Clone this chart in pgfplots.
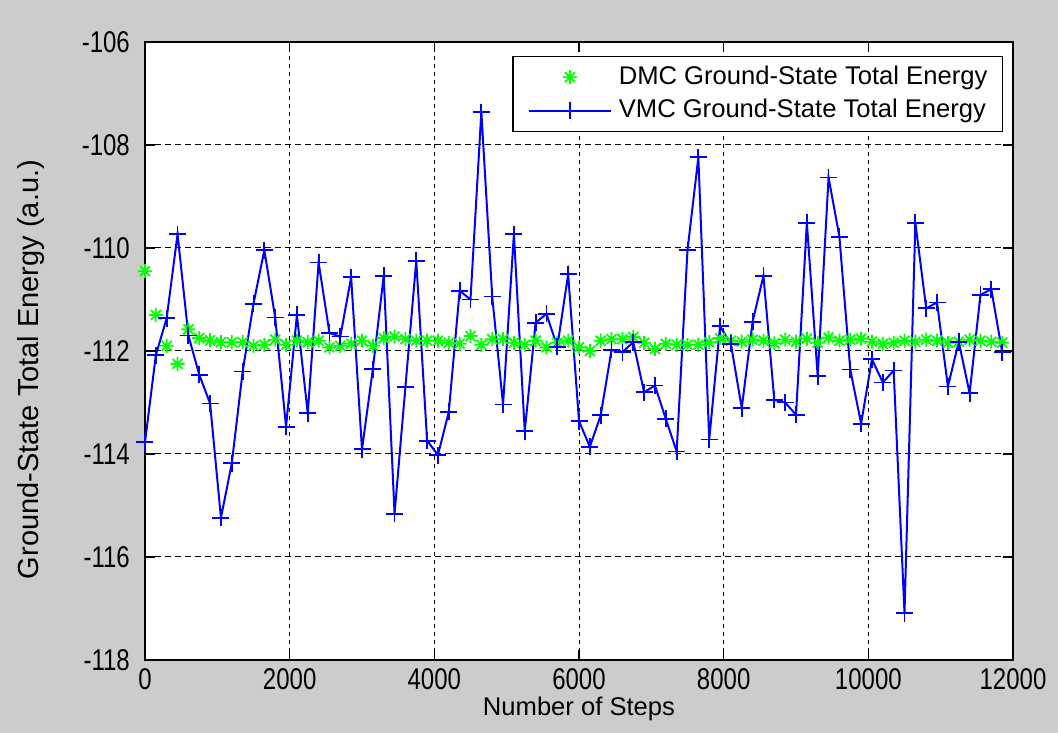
\documentclass[border=0pt]{standalone}
\usepackage{fontspec}
\setmainfont{Liberation Sans}
\newfontfamily\tickfont{Liberation Sans}[FakeStretch=0.8]
\usepackage{pgfplots}
\usepackage{pgfplotstable}
\pgfplotsset{compat=1.18}
\definecolor{figbg}{RGB}{204,204,204}
\pgfdeclareplotmark{mstar}{%
 \pgfpathmoveto{\pgfqpoint{-\pgfplotmarksize}{0pt}}\pgfpathlineto{\pgfqpoint{\pgfplotmarksize}{0pt}}%
 \pgfpathmoveto{\pgfqpoint{0pt}{-\pgfplotmarksize}}\pgfpathlineto{\pgfqpoint{0pt}{\pgfplotmarksize}}%
 \pgfpathmoveto{\pgfqpoint{-.7071\pgfplotmarksize}{-.7071\pgfplotmarksize}}\pgfpathlineto{\pgfqpoint{.7071\pgfplotmarksize}{.7071\pgfplotmarksize}}%
 \pgfpathmoveto{\pgfqpoint{-.7071\pgfplotmarksize}{.7071\pgfplotmarksize}}\pgfpathlineto{\pgfqpoint{.7071\pgfplotmarksize}{-.7071\pgfplotmarksize}}%
 \pgfusepathqstroke}
\pgfplotstableread{
s dmc vmc
0 -110.45 -113.77
150 -111.30 -112.08
300 -111.90 -111.36
450 -112.25 -109.73
600 -111.58 -111.70
750 -111.75 -112.46
900 -111.79 -113.02
1050 -111.83 -115.24
1200 -111.83 -114.18
1350 -111.83 -112.40
1500 -111.90 -111.08
1650 -111.88 -110.04
1800 -111.78 -111.35
1950 -111.88 -113.47
2100 -111.80 -111.30
2250 -111.83 -113.21
2400 -111.80 -110.28
2550 -111.93 -111.65
2700 -111.90 -111.72
2850 -111.86 -110.57
3000 -111.80 -113.91
3150 -111.90 -112.35
3300 -111.75 -110.54
3450 -111.72 -115.16
3600 -111.77 -112.70
3750 -111.80 -110.25
3900 -111.80 -113.74
4050 -111.80 -114.02
4200 -111.84 -113.18
4350 -111.86 -110.83
4500 -111.71 -111.00
4650 -111.88 -107.36
4800 -111.77 -110.94
4950 -111.77 -113.04
5100 -111.84 -109.73
5250 -111.88 -113.56
5400 -111.80 -111.45
5550 -111.93 -111.28
5700 -111.84 -111.92
5850 -111.80 -110.51
6000 -111.93 -113.36
6150 -112.00 -113.86
6300 -111.80 -113.25
6450 -111.77 -111.98
6600 -111.77 -112.02
6750 -111.73 -111.83
6900 -111.84 -112.80
7050 -111.96 -112.67
7200 -111.86 -113.32
7350 -111.88 -113.95
7500 -111.88 -110.04
7650 -111.88 -108.24
7800 -111.83 -113.72
7950 -111.75 -111.52
8100 -111.80 -111.86
8250 -111.82 -113.11
8400 -111.78 -111.43
8550 -111.80 -110.54
8700 -111.85 -112.95
8850 -111.78 -113.00
9000 -111.82 -113.24
9150 -111.76 -109.51
9300 -111.84 -112.49
9450 -111.74 -108.63
9600 -111.80 -109.78
9750 -111.78 -112.36
9900 -111.76 -113.41
10050 -111.82 -112.16
10200 -111.86 -112.61
10350 -111.84 -112.38
10500 -111.80 -117.09
10650 -111.82 -109.51
10800 -111.78 -111.17
10950 -111.80 -111.06
11100 -111.84 -112.69
11250 -111.82 -111.82
11400 -111.78 -112.82
11550 -111.80 -110.91
11700 -111.82 -110.80
11850 -111.84 -112.02
}\datatable
\begin{document}
\begin{tikzpicture}
\fill[figbg] (-145bp,-73bp) rectangle (913bp,660bp);
\useasboundingbox (-145bp,-73bp) rectangle (913bp,660bp);
\begin{axis}[
 at={(0,0)}, anchor=south west, scale only axis,
 width=868bp, height=618bp,
 xmin=0, xmax=12000, ymin=-118, ymax=-106,
 scaled x ticks=false, scaled y ticks=false,
 xtick={0,2000,4000,6000,8000,10000,12000},
 xticklabels={0,2000,4000,6000,8000,10000,12000},
 ytick={-118,-116,-114,-112,-110,-108,-106},
 yticklabels={-118,-116,-114,-112,-110,-108,-106},
 tick align=inside, major tick length=10bp,
 xmajorgrids, ymajorgrids,
 major x grid style={black, line width=1bp, dash pattern=on 4bp off 4bp},
 major y grid style={black, line width=1bp, dash pattern=on 6bp off 4bp},
 axis line style={black, line width=1.3bp},
 every tick/.style={black, line width=1.3bp},
 axis background/.style={fill=white},
 ticklabel style={font=\tickfont\fontsize{30bp}{30bp}\selectfont},
 yticklabel style={inner sep=0pt, xshift=-15bp},
 xticklabel style={inner sep=0pt, yshift=-8bp},
 xlabel={Number of Steps},
 ylabel={Ground-State Total Energy (a.u.)},
 xlabel style={font=\fontsize{25.6bp}{30bp}\selectfont, at={(axis description cs:0.5,-0.09)}, anchor=base, inner sep=0pt},
 ylabel style={font=\fontsize{29bp}{30bp}\selectfont, at={(axis description cs:-0.1313,0.47)}, anchor=center, inner sep=0pt},
 legend style={at={(rel axis cs:0.9885,0.9773)}, anchor=north east, draw=black, line width=1.3bp, fill=white,
   font=\fontsize{25.6bp}{30bp}\selectfont, inner xsep=15bp, inner ysep=7.5bp, row sep=7.5bp,
   nodes={inner sep=0pt, text height=20bp, text depth=6bp}},
 legend cell align=left,
]
\addplot[only marks, mark=mstar, color=green, mark size=7bp, line width=1.8bp,
  legend image code/.code={\draw[mark repeat=2,mark phase=2] plot coordinates {(0bp,0bp) (41bp,0bp) (82bp,0bp)};}]
  table[x=s, y=dmc] {\datatable};
\addlegendentry{\hspace{7bp}DMC Ground-State Total Energy}
\addplot[color=blue, line width=2bp, mark=+, mark size=8.5bp, mark options={line width=1.8bp},
  legend image code/.code={\draw[mark repeat=2,mark phase=2] plot coordinates {(0bp,0bp) (41bp,0bp) (82bp,0bp)};}]
  table[x=s, y=vmc] {\datatable};
\addlegendentry{\hspace{7bp}VMC Ground-State Total Energy}
\end{axis}
\end{tikzpicture}
\end{document}
